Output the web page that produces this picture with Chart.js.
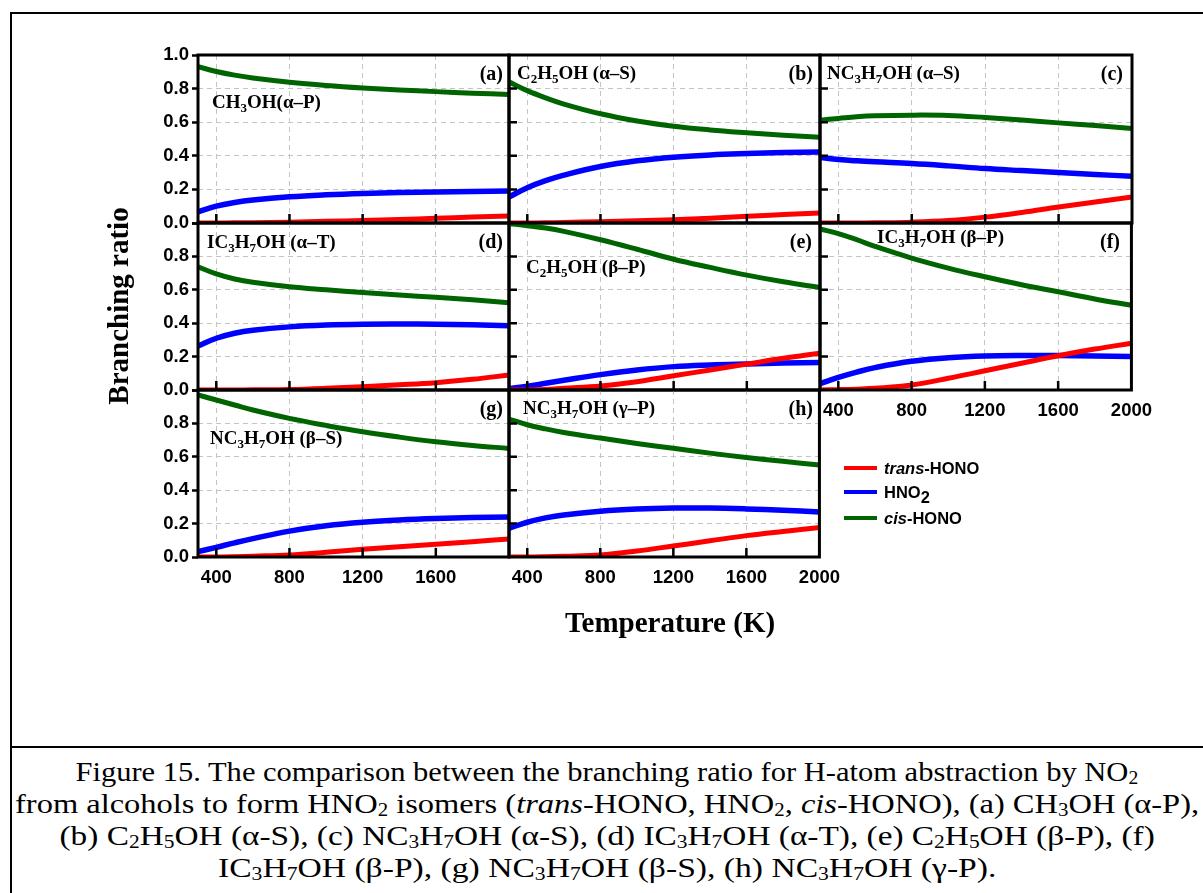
<!DOCTYPE html>
<html>
<head>
<meta charset="utf-8">
<script src="https://cdn.jsdelivr.net/npm/chart.js@4/dist/chart.umd.min.js"></script>
<style>
  body { margin: 0; background: #fff; width: 1203px; height: 893px; overflow: hidden; position: relative; }
  .abs { position: absolute; white-space: nowrap; }
  .tag { font-family: "Liberation Serif", "Times New Roman", serif; font-weight: bold; font-size: 19px; color: #000; line-height: 1; }
  .tag sub { font-size: 13px; vertical-align: -4px; line-height: 0; }
  .letter { font-family: "Liberation Serif", "Times New Roman", serif; font-weight: bold; font-size: 20px; line-height: 1; }
  .axt { font-family: "Liberation Serif", "Times New Roman", serif; font-weight: bold; font-size: 29px; }
  .leg { font-family: "Liberation Sans", Arial, sans-serif; font-weight: bold; font-size: 16.5px; line-height: 1; }
  .leg sub { font-size: 16.5px; vertical-align: -5px; line-height: 0; }
  .legline { position: absolute; width: 33px; height: 4px; }
  #caption { position: absolute; left: 10px; width: 1193px; top: 756px; text-align: center;
    font-family: "Liberation Serif", "Times New Roman", serif; font-size: 28px; line-height: 32px; }
  #caption div { white-space: nowrap; transform-origin: 593px 0; }
  #caption sub { font-size: 18px; vertical-align: -3px; line-height: 0; }
</style>
</head>
<body>
<div class="abs" style="left:10px;top:12px;width:1200px;height:900px;border-left:2px solid #000;border-top:2px solid #000;"></div>
<div class="abs" style="left:10px;top:746px;width:1200px;height:2px;background:#000;"></div>

<script>
// x values (K) shared by every panel
const temps = [300, 400, 500, 600, 800, 1000, 1200, 1400, 1600, 1800, 2000];
const xTicks = [400, 800, 1200, 1600, 2000];
const yTicks = [0, 0.2, 0.4, 0.6, 0.8, 1.0];
const seriesLabels = ['trans-HONO', 'HNO2', 'cis-HONO'];

// (a) CH3OH (α-P)
const transA = [0, 0, 0.001, 0.002, 0.005, 0.010, 0.015, 0.021, 0.028, 0.035, 0.042];
const hno2A  = [0.066, 0.100, 0.122, 0.137, 0.156, 0.168, 0.176, 0.181, 0.185, 0.188, 0.190];
const cisA   = [0.930, 0.902, 0.880, 0.863, 0.838, 0.819, 0.804, 0.792, 0.782, 0.773, 0.765];
// (b) C2H5OH (α-S)
const transB = [0, 0, 0.001, 0.003, 0.008, 0.014, 0.020, 0.029, 0.040, 0.050, 0.060];
const hno2B  = [0.155, 0.210, 0.252, 0.285, 0.336, 0.370, 0.392, 0.405, 0.413, 0.419, 0.423];
const cisB   = [0.840, 0.788, 0.745, 0.708, 0.650, 0.607, 0.576, 0.554, 0.537, 0.522, 0.510];
// (c) NC3H7OH (α-S)
const transC = [0, 0, 0, 0.001, 0.005, 0.015, 0.035, 0.063, 0.095, 0.125, 0.155];
const hno2C  = [0.390, 0.378, 0.370, 0.364, 0.354, 0.340, 0.324, 0.312, 0.300, 0.289, 0.278];
const cisC   = [0.612, 0.622, 0.632, 0.638, 0.642, 0.640, 0.628, 0.613, 0.596, 0.580, 0.563];
// (d) IC3H7OH (α-T)
const transD = [0, 0, 0, 0.001, 0.003, 0.010, 0.020, 0.031, 0.044, 0.064, 0.090];
const hno2D  = [0.263, 0.310, 0.340, 0.358, 0.378, 0.389, 0.394, 0.395, 0.394, 0.390, 0.385];
const cisD   = [0.738, 0.695, 0.665, 0.645, 0.618, 0.600, 0.584, 0.569, 0.555, 0.540, 0.523];
// (e) C2H5OH (β-P)
const transE = [0, 0, 0.003, 0.010, 0.024, 0.050, 0.085, 0.120, 0.155, 0.190, 0.220];
const hno2E  = [0.008, 0.022, 0.040, 0.058, 0.092, 0.120, 0.140, 0.150, 0.156, 0.161, 0.165];
const cisE   = [0.996, 0.984, 0.970, 0.950, 0.900, 0.843, 0.783, 0.734, 0.688, 0.648, 0.614];
// (f) IC3H7OH (β-P)
const transF = [0, 0.002, 0.005, 0.010, 0.030, 0.070, 0.115, 0.160, 0.205, 0.245, 0.280];
const hno2F  = [0.038, 0.075, 0.107, 0.134, 0.172, 0.193, 0.204, 0.207, 0.206, 0.203, 0.200];
const cisF   = [0.964, 0.936, 0.900, 0.860, 0.790, 0.730, 0.678, 0.630, 0.588, 0.545, 0.507];
// (g) NC3H7OH (β-S)
const transG = [0, 0, 0.002, 0.005, 0.012, 0.028, 0.046, 0.061, 0.076, 0.092, 0.108];
const hno2G  = [0.032, 0.058, 0.085, 0.110, 0.155, 0.187, 0.208, 0.221, 0.230, 0.236, 0.240];
const cisG   = [0.970, 0.940, 0.910, 0.880, 0.830, 0.788, 0.750, 0.718, 0.690, 0.668, 0.650];
// (h) NC3H7OH (γ-P)
const transH = [0, 0, 0.002, 0.005, 0.012, 0.036, 0.066, 0.097, 0.128, 0.153, 0.176];
const hno2H  = [0.172, 0.208, 0.234, 0.252, 0.274, 0.287, 0.293, 0.293, 0.288, 0.280, 0.270];
const cisH   = [0.826, 0.792, 0.767, 0.746, 0.712, 0.680, 0.651, 0.622, 0.596, 0.573, 0.551];

const panels = [
    { key: 'a', trans: transA, hno2: hno2A, cis: cisA },
    { key: 'b', trans: transB, hno2: hno2B, cis: cisB },
    { key: 'c', trans: transC, hno2: hno2C, cis: cisC },
    { key: 'd', trans: transD, hno2: hno2D, cis: cisD },
    { key: 'e', trans: transE, hno2: hno2E, cis: cisE },
    { key: 'f', trans: transF, hno2: hno2F, cis: cisF },
    { key: 'g', trans: transG, hno2: hno2G, cis: cisG },
    { key: 'h', trans: transH, hno2: hno2H, cis: cisH }
];

// grid placement of the plot areas
const colX = [198, 509, 820];
const rowY = [55, 223, 390];
const colW = [311, 311, 312];
const rowH = [168, 167, 167];
const showXLabels = { f: true, g: true, h: true };
const hideXLabel = { g: [2000] };

Chart.defaults.font.family = '"Liberation Sans", Arial, sans-serif';
Chart.defaults.color = '#000';

// frame + inward tick marks
const framePlugin = {
    id: 'frame',
    afterDraw(chart, args, opts) {
        const { ctx, chartArea: a, scales } = chart;
        ctx.save();
        ctx.strokeStyle = '#000';
        ctx.lineWidth = 2.5;
        ctx.beginPath();
        xTicks.forEach(v => {
            if (v >= 2000) return;
            const x = scales.x.getPixelForValue(v);
            ctx.moveTo(x, a.bottom);
            ctx.lineTo(x, a.bottom - 9);
        });
        if (opts.innerY) {
            yTicks.forEach(v => {
                if (v <= 0 || v >= 1) return;
                const y = scales.y.getPixelForValue(v);
                ctx.moveTo(a.left, y);
                ctx.lineTo(a.left + 8, y);
            });
        }
        ctx.stroke();
        ctx.lineWidth = 3;
        ctx.strokeRect(a.left, a.top, a.right - a.left, a.bottom - a.top);
        ctx.restore();
    }
};

panels.forEach((p, i) => {
    const col = i % 3, row = Math.floor(i / 3);
    const W = colW[col] + 90, H = rowH[row] + 55;
    const canvas = document.createElement('canvas');
    canvas.width = W;
    canvas.height = H;
    canvas.style.cssText = `position:absolute;left:${colX[col] - 60}px;top:${rowY[row] - 15}px;width:${W}px;height:${H}px;`;
    document.body.appendChild(canvas);

    const line = (data, color, width) => ({
        data: temps.map((t, k) => ({ x: t, y: data[k] })),
        borderColor: color,
        borderWidth: width,
        pointRadius: 0,
        tension: 0.4,
        fill: false
    });

    new Chart(canvas, {
        type: 'line',
        data: {
            datasets: [
                { label: seriesLabels[0], ...line(p.trans, '#ff0000', 5) },
                { label: seriesLabels[1], ...line(p.hno2, '#0000ff', 5.5) },
                { label: seriesLabels[2], ...line(p.cis, '#006400', 5) }
            ]
        },
        options: {
            responsive: false,
            animation: false,
            devicePixelRatio: 1,
            layout: { padding: { top: 15, right: 30, left: 0, bottom: 0 } },
            plugins: {
                legend: { display: false },
                tooltip: { enabled: false },
                frame: { innerY: col > 0 }
            },
            scales: {
                x: {
                    type: 'linear',
                    min: 300,
                    max: 2000,
                    afterBuildTicks: s => { s.ticks = xTicks.map(v => ({ value: v })); },
                    afterFit: s => { s.height = 40; },
                    grid: { color: '#c4c4c4', lineWidth: 1, drawTicks: false },
                    border: { display: false, dash: [5, 4] },
                    ticks: {
                        display: !!showXLabels[p.key],
                        padding: 10,
                        maxRotation: 0,
                        font: { size: 18.5, weight: 'bold' },
                        callback: v => (hideXLabel[p.key] || []).includes(v) ? '' : String(v)
                    }
                },
                y: {
                    type: 'linear',
                    min: 0,
                    max: 1,
                    afterBuildTicks: s => { s.ticks = yTicks.map(v => ({ value: v })); },
                    afterFit: s => { s.width = 60; },
                    grid: { color: '#c4c4c4', lineWidth: 1, drawTicks: col === 0, tickLength: 6, tickColor: '#000', tickWidth: 2.5 },
                    border: { display: false, dash: [5, 4] },
                    ticks: {
                        display: col === 0,
                        padding: 3,
                        font: { size: 18.5, weight: 'bold' },
                        callback: v => (v === 1 && row > 0) ? '' : v.toFixed(1)
                    }
                }
            }
        },
        plugins: [framePlugin]
    });
});
</script>

<!-- panel tags -->
<div class="abs tag" style="left:212px;top:92px;">CH<sub>3</sub>OH(α–P)</div>
<div class="abs letter" style="right:700px;top:63px;">(a)</div>
<div class="abs tag" style="left:517px;top:63px;">C<sub>2</sub>H<sub>5</sub>OH (α–S)</div>
<div class="abs letter" style="right:390px;top:63px;">(b)</div>
<div class="abs tag" style="left:827px;top:63px;">NC<sub>3</sub>H<sub>7</sub>OH (α–S)</div>
<div class="abs letter" style="right:80px;top:63px;">(c)</div>

<div class="abs tag" style="left:207px;top:232px;">IC<sub>3</sub>H<sub>7</sub>OH (α–T)</div>
<div class="abs letter" style="right:700px;top:231px;">(d)</div>
<div class="abs tag" style="left:526px;top:257px;">C<sub>2</sub>H<sub>5</sub>OH (β–P)</div>
<div class="abs letter" style="right:391px;top:231px;">(e)</div>
<div class="abs tag" style="left:877px;top:227px;">IC<sub>3</sub>H<sub>7</sub>OH (β–P)</div>
<div class="abs letter" style="right:83px;top:231px;">(f)</div>

<div class="abs tag" style="left:210px;top:428px;">NC<sub>3</sub>H<sub>7</sub>OH (β–S)</div>
<div class="abs letter" style="right:700px;top:398px;">(g)</div>
<div class="abs tag" style="left:523px;top:398px;">NC<sub>3</sub>H<sub>7</sub>OH (γ–P)</div>
<div class="abs letter" style="right:390px;top:398px;">(h)</div>

<!-- axis titles -->
<div class="abs axt" style="left:118px;top:306px;transform:translate(-50%,-50%) rotate(-90deg);">Branching ratio</div>
<div class="abs axt" style="left:670px;top:622px;transform:translate(-50%,-50%);">Temperature (K)</div>

<!-- legend -->
<div class="legline" style="left:844px;top:466px;background:#ff0000;"></div>
<div class="abs leg" style="left:884px;top:460px;"><i>trans</i>-HONO</div>
<div class="legline" style="left:844px;top:490px;background:#0000ff;"></div>
<div class="abs leg" style="left:884px;top:484px;">HNO<sub>2</sub></div>
<div class="legline" style="left:844px;top:516px;background:#006400;"></div>
<div class="abs leg" style="left:884px;top:510px;"><i>cis</i>-HONO</div>

<div id="caption">
<div style="transform:scaleX(1.09);">Figure 15. The comparison between the branching ratio for H-atom abstraction by NO<sub>2</sub></div>
<div style="transform:scaleX(1.16);">from alcohols to form HNO<sub>2</sub> isomers (<i>trans</i>-HONO, HNO<sub>2</sub>, <i>cis</i>-HONO), (a) CH<sub>3</sub>OH (α-P),</div>
<div style="transform:scaleX(1.19);">(b) C<sub>2</sub>H<sub>5</sub>OH (α-S), (c) NC<sub>3</sub>H<sub>7</sub>OH (α-S), (d) IC<sub>3</sub>H<sub>7</sub>OH (α-T), (e) C<sub>2</sub>H<sub>5</sub>OH (β-P), (f)</div>
<div style="transform:scaleX(1.2);">IC<sub>3</sub>H<sub>7</sub>OH (β-P), (g) NC<sub>3</sub>H<sub>7</sub>OH (β-S), (h) NC<sub>3</sub>H<sub>7</sub>OH (γ-P).</div>
</div>
</body>
</html>
